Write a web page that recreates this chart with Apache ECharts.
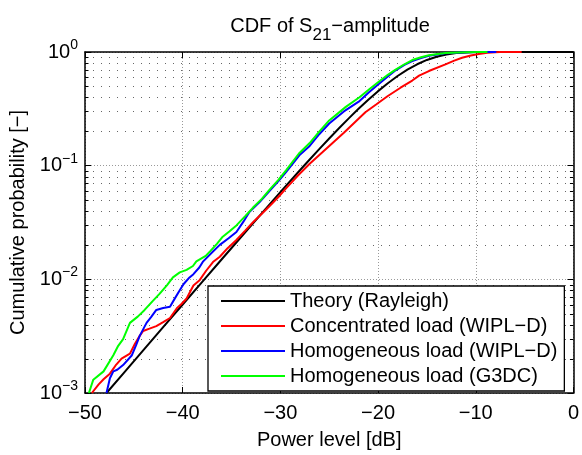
<!DOCTYPE html>
<html><head><meta charset="utf-8">
<script src="https://cdn.jsdelivr.net/npm/echarts@6/dist/echarts.min.js"></script>
<style>html,body{margin:0;padding:0;background:#fff}#c{width:582px;height:455px}</style>
</head><body><div id="c"></div>
<script>
const FONT = 'Liberation Sans';
const seriesNames = ['Theory (Rayleigh)', 'Concentrated load (WIPL\u2212D)', 'Homogeneous load (WIPL\u2212D)', 'Homogeneous load (G3DC)'];
const seriesColors = ['#000000', '#ff0000', '#0000ff', '#00ff00'];

// [power level dB, cumulative probability]
const theory = [[-47.8,0.001],[-46,0.001513],[-44,0.002396],[-42,0.003795],[-40,0.006008],[-38,0.009505],[-36,0.015022],[-34,0.023703],[-32,0.037305],[-30,0.058476],[-28,0.09108],[-27,0.113274],[-26,0.140459],[-25,0.173494],[-24,0.213243],[-23,0.260695],[-22,0.316279],[-21,0.38035],[-20,0.452618],[-19,0.531672],[-18,0.615186],[-17,0.699476],[-16,0.779888],[-15,0.851239],[-14,0.909199],[-13,0.951195],[-12,0.977673],[-11,0.991653],[-10,0.997585],[-9,0.999492],[-8,0.999929],[-6,1],[0,1]];

const concentrated = [[-49.3,0.001],[-48.6,0.00119],[-48.1,0.00132],[-47.45,0.00148],[-46.8,0.00178],[-46.26,0.00201],[-45.4,0.00222],[-44.9,0.0027],[-44.4,0.00318],[-44.05,0.00351],[-43.4,0.00368],[-42.7,0.00388],[-42.0,0.0042],[-41.3,0.00457],[-40.6,0.00557],[-40.1,0.0061],[-39.6,0.00678],[-38.9,0.00883],[-38.3,0.00975],[-37.6,0.0119],[-36.9,0.0142],[-36.2,0.0158],[-35.4,0.0188],[-34.5,0.0222],[-33.6,0.0268],[-32.8,0.0318],[-31.9,0.0378],[-31.1,0.0442],[-30.2,0.053],[-29.4,0.0635],[-28.2,0.082],[-27.0,0.104],[-25.7,0.131],[-24.6,0.16],[-23.5,0.195],[-22.4,0.24],[-21.3,0.295],[-20.2,0.345],[-19.0,0.41],[-17.7,0.485],[-16.5,0.561],[-15.8,0.62],[-14.8,0.68],[-13.1,0.778],[-12.2,0.84],[-11.4,0.889],[-10.5,0.93],[-9.7,0.961],[-8.8,0.985],[-8.0,0.996],[-7.5,1],[-5.3,1]];

const homogeneousWipl = [[-47.8,0.001],[-47.45,0.00135],[-47.1,0.00155],[-46.7,0.0016],[-46.1,0.00176],[-45.2,0.00215],[-44.8,0.0026],[-44.4,0.00318],[-43.7,0.00414],[-43.2,0.0047],[-42.7,0.00538],[-42.0,0.0056],[-41.3,0.00575],[-40.8,0.0068],[-40.3,0.008],[-39.9,0.0091],[-39.3,0.0104],[-38.9,0.0111],[-38.3,0.0127],[-37.9,0.0144],[-36.9,0.0176],[-36.2,0.0201],[-35.3,0.023],[-34.5,0.0261],[-33.8,0.032],[-33.2,0.0388],[-32.1,0.048],[-31.1,0.060],[-30.2,0.073],[-29.4,0.088],[-28.0,0.125],[-27.0,0.149],[-26.0,0.19],[-25.0,0.235],[-23.5,0.3],[-21.9,0.37],[-20.9,0.445],[-19.9,0.525],[-19.0,0.61],[-18.2,0.69],[-17.3,0.77],[-16.5,0.832],[-15.6,0.885],[-14.8,0.925],[-13.1,0.975],[-11.0,0.994],[-9.5,0.999],[-8.7,1],[-7.9,1]];

const homogeneousG3dc = [[-49.6,0.001],[-49.15,0.00131],[-48.1,0.00155],[-47.1,0.00215],[-46.6,0.0026],[-46.1,0.00298],[-45.4,0.00414],[-44.6,0.0047],[-43.9,0.00538],[-43.1,0.0064],[-42.35,0.00748],[-41.6,0.0089],[-41.0,0.0104],[-40.3,0.0115],[-39.6,0.0121],[-38.95,0.0131],[-38.6,0.0144],[-37.6,0.0162],[-37.2,0.0176],[-36.5,0.0205],[-35.9,0.0237],[-35.2,0.0265],[-34.5,0.0298],[-33.6,0.036],[-32.8,0.0428],[-31.9,0.051],[-31.1,0.0615],[-30.2,0.075],[-29.4,0.0912],[-28.1,0.128],[-27.0,0.158],[-26.0,0.2],[-25.0,0.25],[-23.3,0.329],[-21.9,0.40],[-20.9,0.47],[-19.9,0.55],[-19.0,0.63],[-18.2,0.70],[-17.3,0.78],[-16.5,0.85],[-15.6,0.9],[-14.8,0.935],[-13.1,0.978],[-11.05,0.994],[-9.7,1],[-8.8,1]];

const xMin = -50, xMax = 0, xStep = 10;
const yMin = 0.001, yMax = 1;
const yMinorTicks = [0.002,0.003,0.004,0.005,0.006,0.007,0.008,0.009,0.02,0.03,0.04,0.05,0.06,0.07,0.08,0.09,0.2,0.3,0.4,0.5,0.6,0.7,0.8,0.9];

const seriesData = [theory, concentrated, homogeneousWipl, homogeneousG3dc];

const chart = echarts.init(document.getElementById('c'), null, {renderer: 'canvas'});

const axisLineStyle = {color: '#000', width: 1.5};
const tickStyle = {color: '#000', width: 1};
const labelText = {fontFamily: FONT, fontSize: 20, color: '#000', fontWeight: 'normal'};

function fmtX(v) { return v < 0 ? '\u2212' + Math.abs(v) : String(v); }
function fmtY(v) {
  const e = Math.round(Math.log10(v));
  return '{b|10}{s|' + (e < 0 ? '\u2212' + (-e) : e) + '}';
}

function renderMinor(params, api) {
  const children = [];
  const xa = api.coord([xMin, yMin])[0];
  const xb = api.coord([xMax, yMin])[0];
  yMinorTicks.forEach(v => {
    const y = Math.round(api.coord([xMin, v])[1]) + 0.5;
    children.push({type: 'line', shape: {x1: xa, y1: y, x2: xb, y2: y}, style: {stroke: '#666', lineWidth: 1, lineDash: [1, 7]}});
    children.push({type: 'line', shape: {x1: xa, y1: y, x2: xa + 3.5, y2: y}, style: {stroke: '#000', lineWidth: 1}});
    children.push({type: 'line', shape: {x1: xb - 3.5, y1: y, x2: xb, y2: y}, style: {stroke: '#000', lineWidth: 1}});
  });
  return {type: 'group', children};
}

const series = [{
  type: 'custom', name: 'minor', silent: true, z: 1, clip: false,
  renderItem: renderMinor, data: [[xMin, yMin]], encode: {x: 0, y: 1}
}];
seriesNames.forEach((n, i) => {
  series.push({
    type: 'line', name: n, data: seriesData[i], showSymbol: false, symbol: 'none',
    clip: false, z: 3 + i, color: seriesColors[i],
    lineStyle: {color: seriesColors[i], width: 2}, animation: false
  });
});

chart.setOption({
  animation: false,
  backgroundColor: '#fff',
  title: {
    text: '{a|CDF of S}{b|21}{a|\u2212amplitude}',
    left: 330, top: 9, textAlign: 'center', padding: 0,
    textStyle: {fontWeight: 'normal', rich: {
      a: {fontFamily: FONT, fontSize: 20, color: '#000', fontWeight: 'normal'},
      b: {fontFamily: FONT, fontSize: 17, color: '#000', fontWeight: 'normal', padding: [18, 0, 0, 0]}
    }}
  },
  grid: {left: 85, right: 7, top: 52, bottom: 53, containLabel: false},
  legend: {
    data: seriesNames.map(n => ({name: n, icon: 'rect'})), orient: 'vertical', left: 208, top: 286,
    padding: [5, 7, 5, 13], itemGap: 5, itemWidth: 64, itemHeight: 2,
    backgroundColor: '#fff', borderColor: '#000', borderWidth: 1.3, borderRadius: 0,
    textStyle: {fontFamily: FONT, fontSize: 20, color: '#000', lineHeight: 20},
    selectedMode: false
  },
  xAxis: [{
    type: 'value', min: xMin, max: xMax, interval: xStep, position: 'bottom',
    axisLine: {show: true, onZero: false, lineStyle: axisLineStyle},
    axisTick: {show: true, inside: true, length: 6, lineStyle: tickStyle},
    axisLabel: Object.assign({margin: 10, formatter: fmtX}, labelText),
    splitLine: {show: true, lineStyle: {color: '#999', width: 1, type: [1, 2]}},
    name: 'Power level [dB]', nameLocation: 'middle', nameGap: 37,
    nameTextStyle: labelText
  }, {
    type: 'value', min: xMin, max: xMax, interval: xStep, position: 'top',
    axisLine: {show: true, onZero: false, lineStyle: axisLineStyle},
    axisTick: {show: true, inside: true, length: 6, lineStyle: tickStyle},
    axisLabel: {show: false}, splitLine: {show: false}
  }],
  yAxis: [{
    type: 'log', logBase: 10, min: yMin, max: yMax, position: 'left',
    axisLine: {show: true, onZero: false, lineStyle: axisLineStyle},
    axisTick: {show: true, inside: true, length: 6, lineStyle: tickStyle},
    axisLabel: {margin: 7, formatter: fmtY, rich: {
      b: {fontFamily: FONT, fontSize: 20, color: '#000'},
      s: {fontFamily: FONT, fontSize: 14, color: '#000', padding: [0, 0, 14, 0]}
    }},
    splitLine: {show: true, lineStyle: {color: '#999', width: 1, type: [1, 2]}},
    minorTick: {show: false}, minorSplitLine: {show: false},
    name: 'Cumulative probability [\u2212]', nameLocation: 'middle', nameGap: 49, nameRotate: 90,
    nameTextStyle: labelText
  }, {
    type: 'log', logBase: 10, min: yMin, max: yMax, position: 'right',
    axisLine: {show: true, onZero: false, lineStyle: axisLineStyle},
    axisTick: {show: true, inside: true, length: 6, lineStyle: tickStyle},
    axisLabel: {show: false}, splitLine: {show: false}
  }],
  series: series
});
</script></body></html>
